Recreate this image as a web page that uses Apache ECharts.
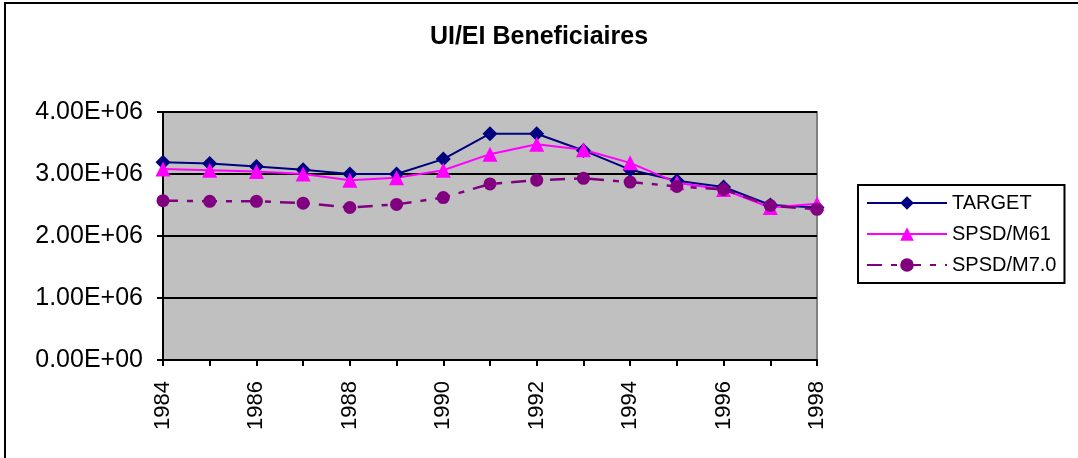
<!DOCTYPE html>
<html lang="en">
  <head>
    <meta charset="UTF-8" />
    <title>UI/EI Beneficiaires</title>
    <script src="https://cdnjs.cloudflare.com/ajax/libs/echarts/6.0.0/echarts.min.js"></script>
    <style>
      html, body { margin: 0; padding: 0; background: #fff; }
    </style>
  </head>
  <body>
    <div id="main" style="width: 1078px; height: 458px"></div>
    <script>
      // data
      var years = ["1984", "1985", "1986", "1987", "1988", "1989", "1990", "1991",
        "1992", "1993", "1994", "1995", "1996", "1997", "1998"];
      var target = [3190000, 3170000, 3120000, 3070000, 3000000, 3000000, 3240000, 3650000,
        3650000, 3380000, 3070000, 2890000, 2790000, 2500000, 2460000];
      var spsdM61 = [3080000, 3060000, 3040000, 3000000, 2900000, 2940000, 3060000, 3320000,
        3480000, 3390000, 3180000, 2860000, 2750000, 2460000, 2520000];
      var spsdM70 = [2570000, 2560000, 2560000, 2530000, 2460000, 2510000, 2620000, 2840000,
        2900000, 2930000, 2870000, 2800000, 2750000, 2490000, 2430000];

      var font = "Liberation Sans, Arial, sans-serif";

      // Excel style 0.00E+00
      function sci(v) {
        var e = v === 0 ? 0 : Math.floor(Math.log10(v) + 1e-9);
        var m = v / Math.pow(10, e);
        return m.toFixed(2) + "E+" + (e < 10 ? "0" : "") + e;
      }

      var myChart = echarts.init(document.getElementById("main"));
      var option = {
        animation: false,
        textStyle: { fontFamily: font, color: "#000" },
        graphic: [
          {
            type: "rect",
            shape: { x: 5, y: 3, width: 1200, height: 600 },
            style: { fill: "none", stroke: "#000", lineWidth: 2 },
          },
        ],
        title: {
          text: "UI/EI Beneficiaires",
          left: "center",
          top: 25,
          padding: 0,
          textStyle: { fontFamily: font, fontSize: 25, fontWeight: "bold", color: "#000" },
        },
        legend: {
          orient: "vertical",
          left: 858,
          top: 185,
          padding: [8, 8, 8, 8],
          itemWidth: 80,
          itemHeight: 17,
          itemGap: 11,
          borderColor: "#000",
          borderWidth: 2,
          textStyle: { fontFamily: font, fontSize: 20, color: "#000" },
          data: ["TARGET", "SPSD/M61", "SPSD/M7.0"],
        },
        grid: {
          left: 163,
          right: 261,
          top: 112,
          bottom: 98,
          show: true,
          backgroundColor: "#c0c0c0",
          borderColor: "#808080",
          borderWidth: 2,
        },
        xAxis: {
          type: "category",
          data: years,
          boundaryGap: false,
          axisLine: { lineStyle: { color: "#000", width: 2 } },
          axisTick: { interval: 0, length: 6, lineStyle: { color: "#000", width: 2 } },
          axisLabel: {
            interval: 1,
            rotate: 90,
            margin: 21,
            fontFamily: font,
            fontSize: 22,
            color: "#000",
          },
          splitLine: { show: false },
        },
        yAxis: {
          type: "value",
          min: 0,
          max: 4000000,
          interval: 1000000,
          axisLine: { show: true, lineStyle: { color: "#000", width: 2 } },
          axisTick: { show: true, length: 6, lineStyle: { color: "#000", width: 2 } },
          axisLabel: {
            margin: 20,
            fontFamily: font,
            fontSize: 25,
            color: "#000",
            formatter: sci,
          },
          splitLine: { lineStyle: { color: "#000", width: 2 } },
        },
        series: [
          {
            type: "line",
            name: "TARGET",
            data: target,
            symbol: "diamond",
            symbolSize: 15,
            color: "#000080",
            lineStyle: { color: "#000080", width: 2 },
            itemStyle: { color: "#000080" },
          },
          {
            type: "line",
            name: "SPSD/M61",
            data: spsdM61,
            symbol: "triangle",
            symbolSize: 15,
            color: "#ff00ff",
            lineStyle: { color: "#ff00ff", width: 2 },
            itemStyle: { color: "#ff00ff" },
          },
          {
            type: "line",
            name: "SPSD/M7.0",
            data: spsdM70,
            symbol: "circle",
            symbolSize: 13,
            color: "#800080",
            lineStyle: { color: "#800080", width: 2.5, type: [15, 9, 6, 9] },
            itemStyle: { color: "#800080" },
          },
        ],
      };
      myChart.setOption(option);
    </script>
  </body>
</html>
